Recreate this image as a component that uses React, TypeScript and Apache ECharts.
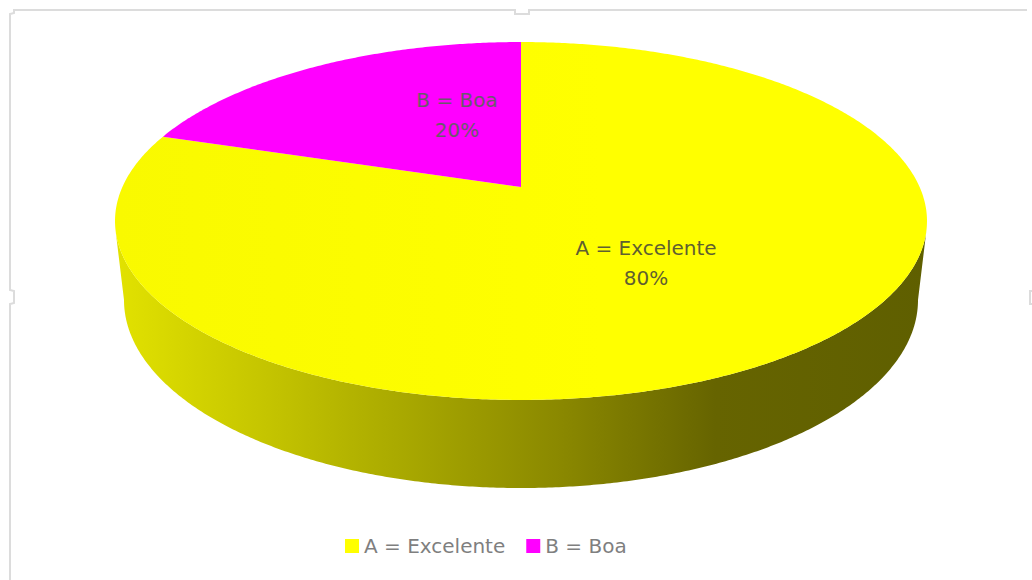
import React, { useEffect, useRef } from "react";
import * as echarts from "echarts";

const categories = ["A = Excelente", "B = Boa"];
const shares = [80, 20];
const sliceColors = ["#ffff00", "#ff00ff"];

const WIDTH = 1032;
const HEIGHT = 580;
const FONT = '"DejaVu Sans", sans-serif';

// Perspective disc: apex of the slices, half-axes and foreshortening factor.
const APEX_X = 521;
const APEX_Y = 187;
const AXIS_X = 398.6;
const AXIS_Y = 172.5;
const TILT = 0.19;

// Lower rim of the disc, as a plain ellipse.
const BASE = { cx: 521, cy: 300, rx: 397, ry: 188 };

const labelAnchors = [
  { x: 646, y: 263 },
  { x: 457, y: 115 },
];

const rimPoint = (deg: number): number[] => {
  const a = (deg * Math.PI) / 180;
  const w = 1 + TILT * Math.cos(a);
  return [
    APEX_X + (AXIS_X * Math.sin(a)) / w,
    APEX_Y - (AXIS_Y * Math.cos(a)) / w,
  ];
};

const slicePoints = (from: number, to: number): number[][] => {
  const pts: number[][] = [[APEX_X, APEX_Y]];
  const steps = Math.max(2, Math.ceil((to - from) * 2));
  for (let i = 0; i <= steps; i++) pts.push(rimPoint(from + ((to - from) * i) / steps));
  return pts;
};

// Outer wall: front of the upper rim, then back along the lower rim.
const wallPoints = (): number[][] => {
  const pts: number[][] = [];
  for (let d = 104; d <= 256; d += 0.5) pts.push(rimPoint(d));
  for (let t = 270; t >= 90; t -= 0.5) {
    const a = (t * Math.PI) / 180;
    pts.push([BASE.cx + BASE.rx * Math.sin(a), BASE.cy - BASE.ry * Math.cos(a)]);
  }
  return pts;
};

const wallFill = new echarts.graphic.LinearGradient(0, 0, 1, 0, [
  { offset: 0, color: "#e2e200" },
  { offset: 0.14, color: "#cccc00" },
  { offset: 0.34, color: "#abab00" },
  { offset: 0.55, color: "#8a8800" },
  { offset: 0.74, color: "#666400" },
  { offset: 1, color: "#5f5f00" },
]);

// The top face brightens slightly towards the right.
const topFill = (idx: number) =>
  idx === 0
    ? new echarts.graphic.LinearGradient(0, 0, 1, 0, [
        { offset: 0, color: "#f9f900" },
        { offset: 0.6, color: "#ffff00" },
        { offset: 1, color: "#ffff00" },
      ])
    : sliceColors[idx];

const total = shares.reduce((s, v) => s + v, 0);

const sliceSeries = categories.map((name, idx) => {
  const before = shares.slice(0, idx).reduce((s, v) => s + v, 0);
  return {
    type: "custom",
    name,
    coordinateSystem: "none",
    silent: true,
    itemStyle: { color: sliceColors[idx] },
    data: [[shares[idx]]],
    renderItem: (_params: any, api: any) => {
      const value = api.value(0);
      const from = (before / total) * 360;
      const to = ((before + value) / total) * 360;
      const children: any[] = [];
      if (idx === 0) {
        children.push({
          type: "polygon",
          shape: { points: wallPoints() },
          style: { fill: wallFill },
        });
      }
      children.push({
        type: "polygon",
        shape: { points: slicePoints(from, to) },
        style: { fill: topFill(idx) },
      });
      children.push({
        type: "text",
        z2: 10,
        x: labelAnchors[idx].x,
        y: labelAnchors[idx].y,
        style: {
          text: `${name}\n${Math.round((value / total) * 100)}%`,
          fill: idx === 0 ? "#5f5f30" : "#6b5a6b",
          font: `20px ${FONT}`,
          lineHeight: 30,
          align: "center",
          verticalAlign: "middle",
        },
      });
      return { type: "group", children };
    },
  };
});

// Selection frame around the chart, with its small resize handles.
const framePoints = [
  [1027, 10], [529, 10], [529, 14], [515, 14], [515, 10], [14, 10], [14, 13], [10, 14],
  [10, 290], [14, 291], [14, 303], [10, 304], [10, 580],
];

export default function App() {
  const ref = useRef<HTMLDivElement>(null);

  useEffect(() => {
    document.body.style.margin = "0";
    const chart = echarts.init(ref.current, undefined, { renderer: "svg" });
    chart.setOption({
      animation: false,
      backgroundColor: "#ffffff",
      legend: {
        left: 340,
        top: 531,
        itemWidth: 14,
        itemHeight: 14,
        itemGap: 21,
        icon: "rect",
        selectedMode: false,
        data: categories,
        textStyle: { color: "#7f7f7f", fontFamily: FONT, fontSize: 20, padding: [0, 0, 6, 0] },
      },
      series: sliceSeries,
      graphic: [
        {
          type: "polyline",
          silent: true,
          shape: { points: framePoints },
          style: { fill: "none", stroke: "#dcdcdc", lineWidth: 2 },
        },
        {
          type: "polyline",
          silent: true,
          shape: { points: [[1032, 291], [1030, 291], [1030, 304], [1032, 304]] },
          style: { fill: "none", stroke: "#dcdcdc", lineWidth: 2 },
        },
      ],
    });
    return () => chart.dispose();
  }, []);

  return <div ref={ref} style={{ width: WIDTH, height: HEIGHT }} />;
}
